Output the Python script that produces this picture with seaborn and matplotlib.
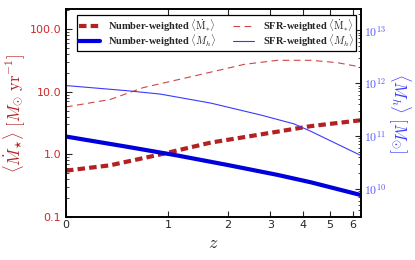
import numpy as np
import pandas as pd
import matplotlib
matplotlib.use('Agg')
import matplotlib.pyplot as plt
import matplotlib.ticker as mticker
import seaborn as sns

# Dữ liệu (z, giá trị)
z_num_mdot = [0.0, 0.35, 0.90, 1.67, 2.75, 4.27, 6.4]
num_mdot = [0.55, 0.67, 1.0, 1.54, 2.08, 2.82, 3.5]

z_sfr_mdot = [0.0, 0.35, 0.69, 1.38, 2.35, 3.2, 4.27, 5.3, 6.4]
sfr_mdot = [5.7, 7.5, 11.6, 17.7, 27.2, 31.6, 31.6, 29.0, 24.7]

z_num_mh = [0.0, 0.51, 1.13, 1.99, 3.2, 4.27, 6.4]
num_mh = [9.8e10, 6.3e10, 4.3e10, 2.85e10, 1.85e10, 1.34e10, 7.7e9]

z_sfr_mh = [0.0, 0.51, 0.90, 1.67, 2.75, 3.7, 4.27, 6.4]
sfr_mh = [9.0e11, 7.2e11, 6.2e11, 4.2e11, 2.5e11, 1.7e11, 1.23e11, 4.3e10]

z_ticks = [0, 1, 2, 3, 4, 5, 6]
left_ticks = [0.1, 1.0, 10.0, 100.0]
right_ticks = [1e10, 1e11, 1e12, 1e13]

red = '#b22222'
red_light = '#d04545'
blue = '#0000dd'
blue_light = '#3a3aff'

sns.set_style('ticks')
plt.rcParams['font.family'] = ['DejaVu Sans']
plt.rcParams['mathtext.fontset'] = 'cm'

fig = plt.figure(figsize=(4.15, 2.6), dpi=100)
ax = fig.add_axes([0.159, 0.165, 0.711, 0.80])
ax2 = ax.twinx()

# vẽ theo 1+z trên trục log
sns.lineplot(x=np.array(z_num_mdot) + 1, y=num_mdot, ax=ax, color=red, lw=3.0,
             linestyle=(0, (1.8, 1.0)), label=r'Number-weighted $\langle \dot{\mathrm{M}}_{*} \rangle$', legend=False)
sns.lineplot(x=np.array(z_sfr_mdot) + 1, y=sfr_mdot, ax=ax, color=red_light, lw=0.8,
             linestyle=(0, (6, 4)), label=r'SFR-weighted $\langle \dot{\mathrm{M}}_{*} \rangle$', legend=False)
sns.lineplot(x=np.array(z_num_mh) + 1, y=num_mh, ax=ax2, color=blue, lw=3.0,
             label=r'Number-weighted $\langle M_{h} \rangle$', legend=False)
sns.lineplot(x=np.array(z_sfr_mh) + 1, y=sfr_mh, ax=ax2, color=blue_light, lw=0.8,
             label=r'SFR-weighted $\langle M_{h} \rangle$', legend=False)

ax.set_xscale('log')
ax.set_yscale('log')
ax2.set_yscale('log')
ax.set_xlim(1, 7.41)
ax.set_ylim(0.1, 207)
ax2.set_ylim(2.95e9, 2.5e13)

ax.set_xticks([z + 1 for z in z_ticks])
ax.set_xticklabels([str(z) for z in z_ticks], fontsize=8)
ax.xaxis.set_minor_locator(mticker.NullLocator())

ax.set_yticks(left_ticks)
ax.yaxis.set_major_formatter(mticker.FormatStrFormatter('%.1f'))
ax.yaxis.set_minor_locator(mticker.LogLocator(base=10, subs=np.arange(2, 10)))
ax.yaxis.set_minor_formatter(mticker.NullFormatter())
ax2.set_yticks(right_ticks)
ax2.yaxis.set_major_formatter(mticker.FuncFormatter(lambda v, p: r'$10^{%d}$' % round(np.log10(v))))
ax2.yaxis.set_minor_locator(mticker.LogLocator(base=10, subs=np.arange(2, 10)))
ax2.yaxis.set_minor_formatter(mticker.NullFormatter())

ax.tick_params(axis='both', which='major', direction='in', length=4, width=0.8, top=True)
ax.tick_params(axis='y', which='minor', direction='in', length=2, width=0.6)
ax.tick_params(axis='y', labelcolor='#cc2a2a', labelsize=8)
ax.tick_params(axis='x', pad=2)
ax2.tick_params(axis='y', which='major', direction='in', length=4, width=0.8, labelcolor='#5858ff',
                labelsize=8.5, pad=2)
ax2.tick_params(axis='y', which='minor', direction='in', length=2, width=0.6)

for a in (ax, ax2):
    for s in a.spines.values():
        s.set_linewidth(1.2)
        s.set_color('black')

ax.set_xlabel(r'$z$', fontsize=13, labelpad=3)
ax.set_ylabel(r'$\langle \dot{M}_{\star} \rangle\ [M_{\odot}\ \mathrm{yr}^{-1}]$', fontsize=12, color=red, labelpad=2)
ax2.set_ylabel(r'$\langle M_{h} \rangle\ [M_{\odot}]$', fontsize=12, color=blue_light, rotation=270, labelpad=19)

h1, l1 = ax.get_legend_handles_labels()
h2, l2 = ax2.get_legend_handles_labels()
handles = [h1[0], h2[0], h1[1], h2[1]]
labels = [l1[0], l2[0], l1[1], l2[1]]
leg = ax2.legend(handles, labels, loc='upper left', ncol=2, fancybox=False, framealpha=1,
                 edgecolor='black', prop={'family': 'Liberation Serif', 'weight': 'bold', 'size': 7.5},
                 handlelength=2.0, columnspacing=1.6, borderpad=0.2, labelspacing=-0.15,
                 handletextpad=0.8, bbox_to_anchor=(0.02, 0.995))
leg.get_frame().set_linewidth(0.9)

fig.savefig('out.png', dpi=100)
